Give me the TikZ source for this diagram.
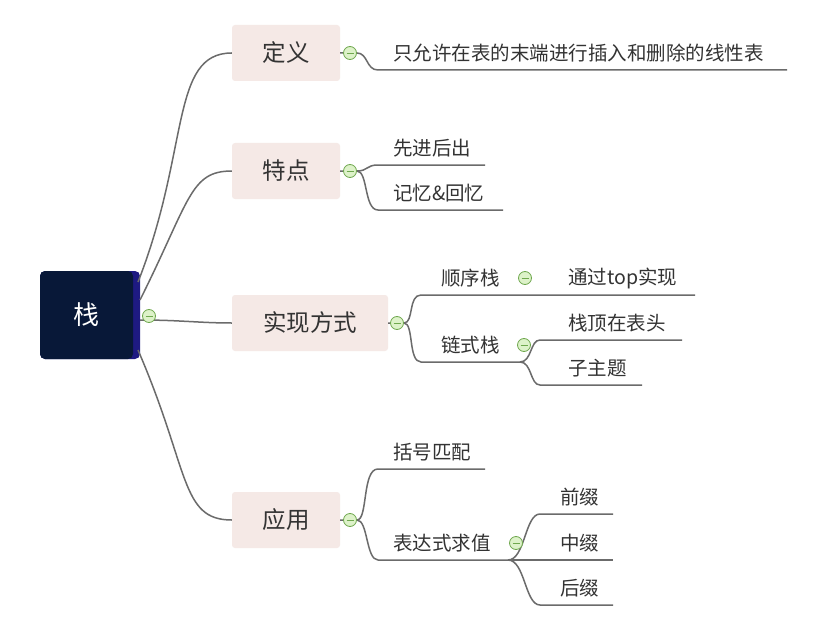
\documentclass[tikz,border=0pt]{standalone}
\usepackage{fontspec}
\setmainfont{Noto Sans CJK SC}
\begin{document}
\begin{tikzpicture}[x=1pt,y=-1pt,
  conn/.style={draw=black!58,line width=1.5pt},
  sub/.style={fill=boxfill,rounded corners=3pt,minimum height=56pt,font=\fontsize{23.5}{26}\selectfont,text=black!80,inner sep=0pt},
  leaf/.style={anchor=west,font=\fontsize{19.5}{22}\selectfont,text=black!80,inner sep=0pt},
  tog/.style={circle,draw=togline,fill=togfill,line width=0.8pt,minimum size=13pt,inner sep=0pt,path picture={\draw[togline,line width=0.9pt] ([xshift=-3.5pt]path picture bounding box.center) -- ([xshift=3.5pt]path picture bounding box.center);}}]
\definecolor{boxfill}{HTML}{F5E9E6}
\definecolor{togfill}{HTML}{DDF2C9}
\definecolor{togline}{HTML}{6FA84E}
\useasboundingbox (0,0) rectangle (819,623);
\fill[white] (0,0) rectangle (819,623);
% root
\fill[fill={rgb,255:red,30;green,26;blue,130},rounded corners=5pt] (40,271) rectangle (140,359);
\node[fill={rgb,255:red,8;green,24;blue,56},rounded corners=5pt,minimum width=93pt,minimum height=88pt,inner sep=0pt,text=white,font=\fontsize{26}{28}\selectfont] (root) at (86.5,315) {栈};
\node[sub,minimum width=108pt] (d) at (286,53) {定义};
\node[sub,minimum width=108pt] (t) at (286,171) {特点};
\node[sub,minimum width=156pt] (s) at (310,323) {实现方式};
\node[sub,minimum width=108pt] (y) at (286,520) {应用};
\coordinate (r1) at (138,282); \coordinate (r2) at (140,300);
\coordinate (r3) at (140,320); \coordinate (r4) at (138,350);
\draw[conn] (r1) .. controls (190,150) and (170,53) .. (d.west);
\draw[conn] (r2) .. controls (190,200) and (190,171) .. (t.west);
\draw[conn] (r3) .. controls (180,320) and (200,323) .. (s.west);
\draw[conn] (r4) .. controls (190,470) and (180,520) .. (y.west);
\node[tog] (g0) at (149,316) {};
% 定义
\node[leaf] (d1) at (393,53) {只允许在表的末端进行插入和删除的线性表};
\coordinate (d1a) at (378,70); \coordinate (d1b) at (787,70);
\draw[conn] (d.east) -- (357,53) .. controls (368,53) and (366,70) .. (d1a) -- (d1b);
\node[tog] (g1) at (350,53) {};
% 特点
\node[leaf] (t1) at (393,148) {先进后出};
\node[leaf] (t2) at (393,193) {记忆\&回忆};
\coordinate (t1a) at (378,165); \coordinate (t1b) at (485,165);
\coordinate (t2a) at (378,210); \coordinate (t2b) at (503,210);
\draw[conn] (t.east) -- (357,171) .. controls (368,171) and (366,165) .. (t1a) -- (t1b);
\draw[conn] (357,171) .. controls (368,171) and (364,210) .. (t2a) -- (t2b);
\node[tog] (g2) at (350,171) {};
% 实现方式
\node[leaf] (s1) at (441,278) {顺序栈};
\node[leaf] (s2) at (441,345) {链式栈};
\coordinate (s1a) at (421,295); \coordinate (s1b) at (695,295);
\coordinate (s2a) at (421,362); \coordinate (s2b) at (520,362);
\draw[conn] (s.east) -- (404,323) .. controls (414,323) and (408,295) .. (s1a) -- (s1b);
\draw[conn] (404,323) .. controls (414,323) and (408,362) .. (s2a) -- (s2b);
\node[tog] (g3) at (397,323) {};
\node[tog] (g4) at (525,278) {};
\node[leaf] (s11) at (568,278) {通过top实现};
\node[tog] (g5) at (524,345) {};
\node[leaf] (s21) at (568,323) {栈顶在表头};
\node[leaf] (s22) at (568,368) {子主题};
\coordinate (s21a) at (540,340); \coordinate (s21b) at (682,340);
\coordinate (s22a) at (540,385); \coordinate (s22b) at (642,385);
\draw[conn] (s2b) .. controls (532,362) and (530,340) .. (s21a) -- (s21b);
\draw[conn] (s2b) .. controls (532,362) and (530,385) .. (s22a) -- (s22b);
% 应用
\node[leaf] (y1) at (393,452) {括号匹配};
\node[leaf] (y2) at (393,543) {表达式求值};
\coordinate (y1a) at (378,469); \coordinate (y1b) at (485,469);
\coordinate (y2a) at (378,560); \coordinate (y2b) at (508,560);
\draw[conn] (y.east) -- (357,520) .. controls (368,520) and (362,469) .. (y1a) -- (y1b);
\draw[conn] (357,520) .. controls (368,520) and (366,560) .. (y2a) -- (y2b);
\node[tog] (g6) at (350,520) {};
\node[leaf] (y21) at (560,497) {前缀};
\node[leaf] (y22) at (560,543) {中缀};
\node[leaf] (y23) at (560,588) {后缀};
\coordinate (y21a) at (540,514); \coordinate (y21b) at (613,514);
\coordinate (y22b) at (613,560);
\coordinate (y23a) at (540,605); \coordinate (y23b) at (613,605);
\draw[conn] (y2b) .. controls (525,560) and (525,514) .. (y21a) -- (y21b);
\draw[conn] (y2b) -- (y22b);
\draw[conn] (y2b) .. controls (525,560) and (525,605) .. (y23a) -- (y23b);
\node[tog] (g7) at (516,543) {};
\end{tikzpicture}
\end{document}
